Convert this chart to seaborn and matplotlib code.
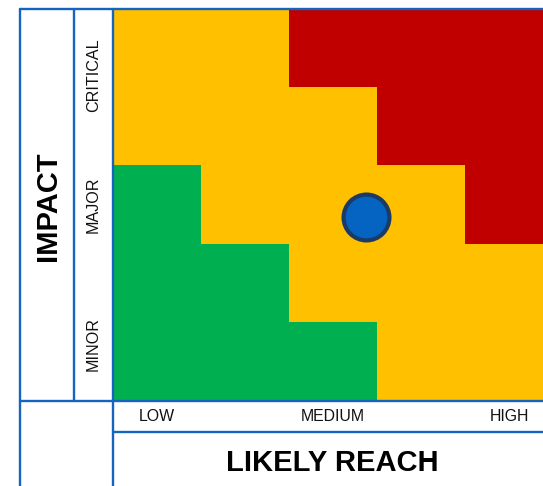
import numpy as np
import seaborn as sns
import matplotlib.pyplot as plt
from matplotlib.colors import ListedColormap
from matplotlib.lines import Line2D

# risk levels: 0 = low (green), 1 = medium (yellow), 2 = high (red); rows top -> bottom
risk_grid = [
    [1, 1, 2, 2, 2],
    [1, 1, 1, 2, 2],
    [0, 1, 1, 1, 2],
    [0, 0, 1, 1, 1],
    [0, 0, 0, 1, 1],
]
risk_colors = ['#00B050', '#FFC000', '#C00000']

reach_labels = ['LOW', 'MEDIUM', 'HIGH']
impact_labels = ['CRITICAL', 'MAJOR', 'MINOR']

# the marked item (reach, impact) in grid units
point_reach = [2.87]
point_impact = [2.66]

sns.set_theme(style='white')
plt.rcParams['font.family'] = ['Liberation Sans', 'DejaVu Sans']

W, H = 543, 486
fig = plt.figure(figsize=(W / 100, H / 100), dpi=100)

def fx(px):
    return px / W

def fy(py):
    return 1 - py / H

# grid area, the last column runs off the right edge like the original
ax = fig.add_axes([fx(113), fy(400), fx(440), fy(9) - fy(400)])
sns.heatmap(np.array(risk_grid), ax=ax, cmap=ListedColormap(risk_colors),
            vmin=0, vmax=2, cbar=False, linewidths=0)

ax.scatter(point_reach, point_impact, s=1090, color='#0563C1',
           edgecolor='#1B3A66', linewidth=3.0, zorder=5, clip_on=False)

ax.set_xticks([0.5, 2.5, 4.5], reach_labels, rotation=0, fontsize=11.4,
              color='#111111', va='center')
ax.set_yticks([0.85, 2.5, 4.29], impact_labels, rotation=90, fontsize=11.6,
              color='#111111', ha='center', va='center')
ax.tick_params(axis='x', length=0, pad=11.9)
ax.tick_params(axis='y', length=0, pad=14)
ax.set_xlabel('')
ax.set_ylabel('')

# frame lines
line_color = '#1565C0'
segments = [
    ((19.5, 19.5), (8.7, 490)),
    ((73.7, 73.7), (8.7, 401)),
    ((112.8, 112.8), (8.7, 490)),
    ((19.5, 550), (8.7, 8.7)),
    ((19.5, 550), (401, 401)),
    ((112.8, 550), (432, 432)),
]
for xs, ys in segments:
    fig.add_artist(Line2D([fx(x) for x in xs], [fy(y) for y in ys],
                          color=line_color, linewidth=1.7,
                          transform=fig.transFigure, zorder=10))

fig.text(fx(48), fy(206.5), 'IMPACT', rotation=90, fontsize=21,
         fontweight='bold', ha='center', va='center', color='black')
fig.text(fx(332.5), fy(463), 'LIKELY REACH', fontsize=21,
         fontweight='bold', ha='center', va='center', color='black')

fig.savefig('out.png', dpi=100)
